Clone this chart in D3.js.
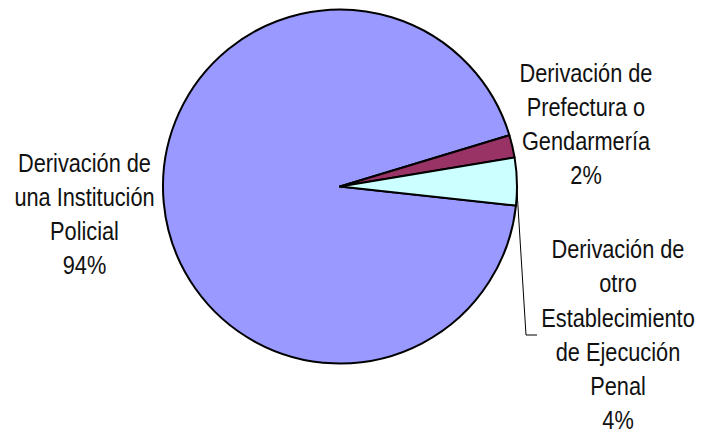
<!DOCTYPE html>
<html><head><meta charset="utf-8">
<script src="https://cdn.jsdelivr.net/npm/d3@7"></script>
<style>html,body{margin:0;padding:0;background:#fff;}</style>
</head><body>
<svg id="c" width="709" height="435"></svg>
<script>
const categories = ["Derivación de una Institución Policial", "Derivación de Prefectura o Gendarmería", "Derivación de otro Establecimiento de Ejecución Penal"];
const values = [93.6, 2.05, 4.35];
const pctLabels = ["94%", "2%", "4%"];
const labelLines = [
  ["Derivación de", "una Institución", "Policial"],
  ["Derivación de", "Prefectura o", "Gendarmería"],
  ["Derivación de", "otro", "Establecimiento", "de Ejecución", "Penal"]
];
const colors = ["#9999FF", "#993366", "#CCFFFF"];

const svg = d3.select("#c");
const cx = 340, cy = 186.5, r = 177;
const g = svg.append("g").attr("transform", `translate(${cx},${cy})`);

const startDeg = 96.2;
const pie = d3.pie().sort(null).value(d => d)
  .startAngle(startDeg * Math.PI / 180)
  .endAngle((startDeg + 360) * Math.PI / 180);
const arcs = pie(values);
const arc = d3.arc().innerRadius(0).outerRadius(r);

g.selectAll("path").data(arcs).enter().append("path")
  .attr("d", arc)
  .attr("fill", (d, i) => colors[i])
  .attr("stroke", "#000")
  .attr("stroke-width", 2)
  .attr("stroke-linejoin", "round");

// leader line for the cyan slice
const a2 = arcs[2];
const mid = (a2.startAngle + a2.endAngle) / 2;
const px = cx + r * Math.sin(mid), py = cy - r * Math.cos(mid);
svg.append("polyline")
  .attr("points", `${px},${py + 8} ${526},${335} ${537},${335}`)
  .attr("fill", "none").attr("stroke", "#000").attr("stroke-width", 1);

const labelPos = [
  {x: 84.5, y: 171.5},
  {x: 586, y: 81.5},
  {x: 618, y: 258}
];
const lh = 34.3;
labelLines.forEach((lines, i) => {
  const all = lines.concat([pctLabels[i]]);
  const t = svg.append("g")
    .attr("transform", `translate(${labelPos[i].x},${labelPos[i].y}) scale(0.87,1)`);
  t.selectAll("text").data(all).enter().append("text")
    .attr("x", 0).attr("y", (d, j) => j * lh)
    .attr("text-anchor", "middle")
    .attr("font-family", "Liberation Sans, Arial, sans-serif")
    .attr("font-size", 25)
    .attr("fill", "#111")
    .text(d => d);
});
</script>
</body></html>
